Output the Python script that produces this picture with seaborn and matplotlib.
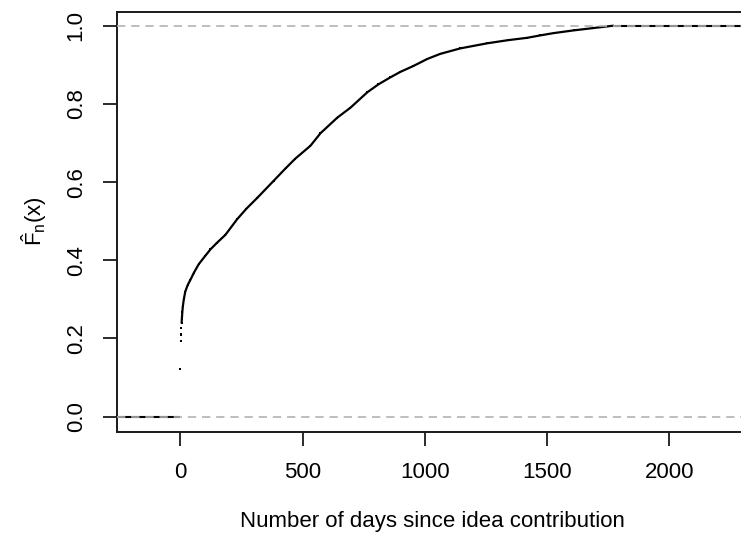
import matplotlib
matplotlib.use("Agg")
import matplotlib.pyplot as plt
import seaborn as sns
import pandas as pd

# isolated early jumps of the empirical CDF (days, cumulative share)
jump_days = [0, 1, 2, 2.6, 3.5]
jump_share = [0.122, 0.194, 0.210, 0.212, 0.227]

curve_days = [5, 6, 8, 10, 14, 20, 30, 41, 55, 75, 100, 123, 150, 184, 232, 270,
              315, 381, 430, 470, 532, 573, 642, 695, 765, 810, 859, 900, 953,
              1010, 1063, 1145, 1255, 1340, 1418, 1470, 1526, 1608, 1689, 1770]
curve_share = [0.240, 0.250, 0.268, 0.282, 0.300, 0.320, 0.337, 0.350, 0.368, 0.390,
               0.410, 0.428, 0.445, 0.465, 0.505, 0.532, 0.560, 0.603, 0.635, 0.660,
               0.693, 0.725, 0.765, 0.790, 0.830, 0.850, 0.868, 0.882, 0.897,
               0.915, 0.928, 0.942, 0.955, 0.963, 0.969, 0.975, 0.981, 0.988, 0.994, 1.000]

xticks = [0, 500, 1000, 1500, 2000]
yticks = [0.0, 0.2, 0.4, 0.6, 0.8, 1.0]
ytick_labels = ["0.0", "0.2", "0.4", "0.6", "0.8", "1.0"]

sns.set_style("ticks")
plt.rcParams["font.family"] = ["Liberation Sans", "DejaVu Sans"]
plt.rcParams["mathtext.fontset"] = "custom"
plt.rcParams["mathtext.rm"] = "Liberation Sans"
plt.rcParams["mathtext.it"] = "Liberation Sans"
plt.rcParams["mathtext.bf"] = "Liberation Sans:bold"

W, H = 741, 535
fig = plt.figure(figsize=(W / 100, H / 100), dpi=100)
left_px, right_px, top_px, bot_px = 117.3, 748.4, 11.7, 431.7
ax = fig.add_axes([left_px / W, 1 - bot_px / H, (right_px - left_px) / W, (bot_px - top_px) / H])

XMIN, XMAX = -258, 2323
YMIN, YMAX = -0.0384, 1.0358

jumps = pd.DataFrame({"days": jump_days, "share": jump_share})
curve = pd.DataFrame({"days": curve_days, "share": curve_share})

# tails of the step function
ax.plot([XMIN, jump_days[0]], [0, 0], color="black", lw=1.5, solid_capstyle="butt")
ax.plot([curve_days[-1], XMAX], [1, 1], color="black", lw=1.5, solid_capstyle="butt")

sns.lineplot(data=curve, x="days", y="share", ax=ax, color="black", lw=1.6,
             sort=False, estimator=None)
sns.scatterplot(data=jumps, x="days", y="share", ax=ax, color="black", s=4,
                linewidth=0, marker="s")
sns.scatterplot(data=curve, x="days", y="share", ax=ax, color="black", s=4,
                linewidth=0, marker="s")

for yv in (0, 1):
    ax.axhline(yv, color="#B3B3B3", lw=1.2, ls=(0, (5, 3.5)), zorder=5)

ax.set_xlim(XMIN, XMAX)
ax.set_ylim(YMIN, YMAX)
ax.set_xticks(xticks)
ax.set_xticklabels([str(t) for t in xticks])
ax.set_yticks(yticks)
ax.set_yticklabels(ytick_labels, rotation=90, va="center")

for s in ("left", "bottom", "top"):
    ax.spines[s].set_visible(True)
    ax.spines[s].set_color("#1a1a1a")
    ax.spines[s].set_linewidth(1.4)
ax.spines["right"].set_visible(False)

ax.tick_params(axis="both", length=10, width=1.3, color="#1a1a1a",
               labelsize=16, labelcolor="black")
ax.tick_params(axis="x", pad=12)
ax.tick_params(axis="y", pad=12)

ax.set_xlabel("Number of days since idea contribution", fontsize=16, labelpad=20,
              color="black")
ax.set_ylabel(r"$\hat{\mathrm{F}}_\mathrm{n}\mathrm{(x)}$", fontsize=16, labelpad=12,
              color="black")

fig.savefig("out.png", dpi=100)
